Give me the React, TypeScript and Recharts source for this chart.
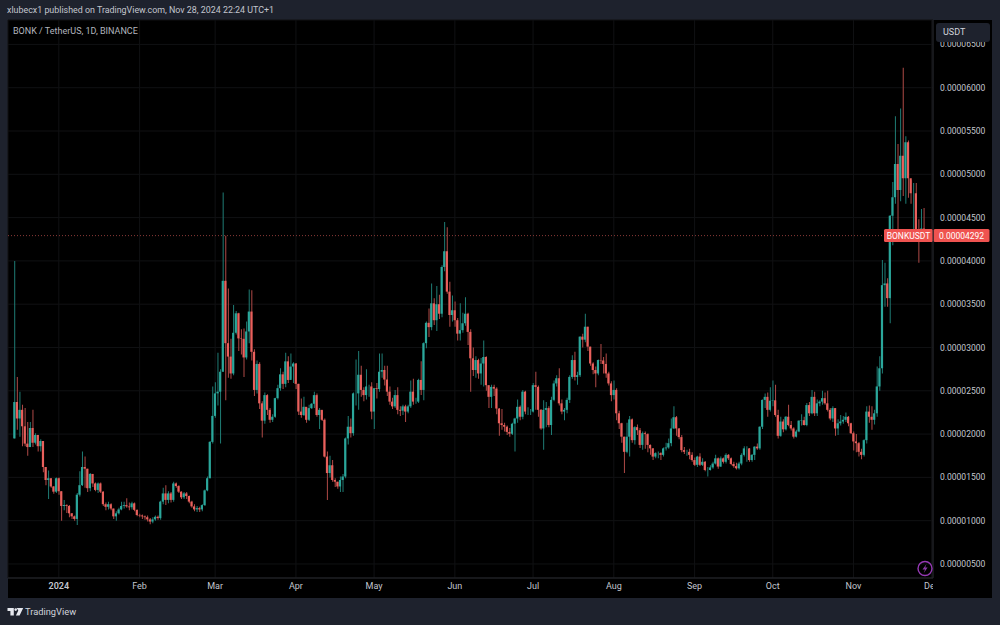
import { Bar, Cell, CartesianGrid, ComposedChart, ReferenceLine, XAxis, YAxis } from 'recharts';

// all prices are in units of 0.00000001 USDT
const firstOpen = 1950;
const lastPrice = 4292;

// one row per month, Dec 15 2023 to Nov 28 2024
const closes = [
  2370, 2180, 2280, 2090, 1890, 1850, 2070, 1900, 1990, 1860, 1920, 1620, 1470, 1490, 1395, 1335, 1490,
  1340, 1170, 1180, 1170, 1085, 1050, 1020, 1300, 1410, 1620, 1600, 1375, 1540, 1430, 1355, 1430, 1335, 1190, 1160, 1190, 1140, 1050, 1085, 1130, 1170, 1180, 1165, 1155, 1200, 1125, 1065,
  1060, 1050, 1040, 1015, 990, 1015, 1045, 1030, 1220, 1315, 1240, 1315, 1240, 1430, 1400, 1335, 1270, 1315, 1285, 1220, 1165, 1130, 1145, 1130, 1180, 1350, 1490, 1910, 2210,
  2470, 2490, 2720, 3770, 3050, 2895, 2700, 3170, 3395, 3105, 3100, 2885, 3185, 3415, 2950, 2510, 2810, 2355, 2155, 2450, 2280, 2165, 2200, 2415, 2530, 2690, 2580, 2840, 2625, 2780, 2815,
  2580, 2260, 2220, 2315, 2165, 2300, 2350, 2450, 2220, 2280, 2165, 1740, 1550, 1640, 1470, 1450, 1395, 1470, 1510, 1950, 2085, 2010, 2470, 2470, 2685, 2510, 2450, 2550, 2550, 2260,
  2530, 2520, 2720, 2740, 2630, 2490, 2375, 2320, 2450, 2280, 2270, 2320, 2260, 2320, 2490, 2375, 2375, 2625, 2510, 3050, 3285, 3235, 3510, 3315, 3500, 3390, 3930, 4110, 3645, 3375, 3430,
  3315, 3160, 3200, 3280, 3390, 3180, 2875, 2740, 2855, 2700, 2815, 2890, 2565, 2430, 2545, 2525, 2295, 2125, 2105, 2085, 2025, 2005, 2120, 2180, 2315, 2200, 2490, 2260, 2260, 2260,
  2565, 2545, 2280, 2065, 2280, 2300, 2105, 2395, 2585, 2645, 2355, 2260, 2280, 2395, 2660, 2855, 2660, 2680, 3125, 3090, 3240, 3010, 2815, 2740, 2700, 2855, 2850, 2810, 2700, 2585, 2450,
  2510, 2240, 2125, 1970, 1795, 1970, 2170, 1930, 2080, 2045, 1875, 2010, 2000, 1875, 1835, 1740, 1780, 1780, 1760, 1835, 1845, 1895, 2065, 2195, 2065, 1965, 1815, 1795, 1795, 1760, 1700,
  1645, 1740, 1645, 1680, 1585, 1585, 1615, 1660, 1720, 1625, 1720, 1680, 1760, 1720, 1655, 1630, 1605, 1660, 1760, 1835, 1835, 1700, 1760, 1855, 1835, 2085, 2395, 2430, 2280, 2385,
  2390, 2220, 1980, 2145, 2055, 2200, 2105, 2065, 1970, 2030, 2155, 2160, 2105, 2335, 2240, 2430, 2240, 2355, 2375, 2415, 2355, 2280, 2180, 2300, 2065, 2125, 2145, 2165, 2200, 2125, 2010,
  1915, 1895, 1795, 1760, 1930, 2260, 2200, 2165, 2240, 2550, 2760, 3720, 3740, 3570, 4520, 4735, 5120, 4820, 5215, 4955, 5370, 4955, 4780, 4780, 4360, 4320, 4375, 4292,
];
const highs = [
  4000, 2660, 2490, 2340, 2300, 2140, 2140, 2280, 2010, 1990, 1940, 1920, 1620, 1580, 1490, 1400, 1500,
  1500, 1340, 1240, 1190, 1180, 1090, 1060, 1320, 1570, 1800, 1740, 1600, 1550, 1540, 1440, 1440, 1440, 1340, 1210, 1220, 1200, 1140, 1110, 1150, 1220, 1220, 1260, 1210, 1220, 1210, 1130,
  1080, 1070, 1060, 1060, 1030, 1040, 1060, 1060, 1230, 1380, 1410, 1340, 1330, 1450, 1440, 1410, 1340, 1330, 1330, 1290, 1230, 1190, 1170, 1160, 1190, 1360, 1510, 1920, 2550,
  2600, 2940, 2750, 4790, 4290, 3680, 3100, 3490, 3420, 3400, 3210, 3220, 3300, 3670, 3660, 2980, 2850, 2830, 2380, 2480, 2460, 2300, 2230, 2420, 2570, 2760, 2720, 2940, 2900, 2930, 2830,
  2820, 2580, 2410, 2430, 2310, 2340, 2360, 2490, 2470, 2300, 2270, 2180, 1800, 1750, 1700, 1490, 1450, 1510, 1540, 1960, 2210, 2180, 2480, 2860, 2960, 2790, 2540, 2750, 2570, 2600,
  2530, 2590, 2930, 2930, 2790, 2790, 2550, 2420, 2510, 2540, 2320, 2340, 2340, 2340, 2620, 2640, 2420, 2640, 2840, 3060, 3300, 3450, 3740, 3570, 3710, 3610, 3950, 4450, 4390, 3760, 3600,
  3530, 3340, 3510, 3400, 3580, 3400, 3210, 3000, 2900, 2870, 2880, 3080, 2900, 2560, 2570, 2570, 2540, 2300, 2290, 2130, 2100, 2070, 2130, 2190, 2400, 2330, 2510, 2500, 2310, 2290,
  2590, 2720, 2560, 2290, 2390, 2370, 2320, 2430, 2620, 2680, 2760, 2400, 2300, 2420, 2680, 2910, 2950, 2720, 3130, 3160, 3390, 3240, 3010, 2830, 2780, 2860, 3040, 2890, 2930, 2720, 2610,
  2620, 2530, 2270, 2130, 1970, 2130, 2210, 2180, 2090, 2110, 2070, 2030, 2030, 2010, 1880, 1840, 1790, 1800, 1790, 1845, 1900, 1950, 2180, 2320, 2210, 2070, 1990, 1850, 1820, 1830, 1790,
  1730, 1750, 1780, 1720, 1690, 1620, 1640, 1680, 1760, 1730, 1740, 1730, 1780, 1770, 1730, 1680, 1670, 1680, 1780, 1860, 1860, 1840, 1770, 1860, 1890, 2090, 2400, 2470, 2480, 2540,
  2620, 2570, 2280, 2200, 2170, 2210, 2340, 2150, 2080, 2050, 2160, 2230, 2200, 2360, 2370, 2510, 2490, 2400, 2390, 2500, 2480, 2500, 2300, 2320, 2300, 2170, 2220, 2210, 2250, 2210, 2130,
  2030, 2000, 1910, 1830, 1940, 2320, 2330, 2320, 2280, 2780, 2900, 4010, 3980, 3800, 4530, 4910, 5670, 5350, 5760, 6230, 5440, 5390, 4930, 4900, 4900, 4480, 4600, 4610,
];
const lows = [
  1950, 2050, 1970, 1860, 1860, 1750, 1850, 1850, 1880, 1800, 1800, 1560, 1410, 1250, 1380, 1310, 1320,
  1300, 1000, 1120, 1090, 1040, 1020, 1000, 950, 1280, 1400, 1380, 1330, 1340, 1390, 1340, 1320, 1320, 1170, 1120, 1130, 1120, 1020, 1000, 1070, 1120, 1140, 1150, 1120, 1130, 1110, 1050,
  1040, 1020, 1010, 990, 960, 970, 1000, 1010, 1010, 1190, 1180, 1200, 1210, 1220, 1380, 1320, 1250, 1250, 1250, 1200, 1150, 1110, 1100, 1100, 1110, 1170, 1340, 1490, 1890,
  2190, 2330, 1890, 2720, 2390, 2650, 2640, 2680, 3150, 2960, 2920, 2660, 2860, 3050, 2850, 2440, 2470, 2290, 1960, 2120, 2220, 2130, 2140, 2190, 2400, 2500, 2520, 2540, 2590, 2640, 2590,
  2520, 2220, 2190, 2210, 2130, 2150, 2290, 2300, 2200, 2060, 2150, 1730, 1240, 1500, 1450, 1390, 1370, 1330, 1330, 1490, 1880, 1960, 1980, 2330, 2280, 2430, 2380, 2400, 2430, 2170,
  2060, 2410, 2490, 2650, 2560, 2440, 2340, 2290, 2300, 2230, 2210, 2220, 2140, 2240, 2300, 2340, 2350, 2360, 2450, 2390, 2990, 3120, 3200, 3260, 3190, 3330, 3350, 3880, 3620, 3240, 3300,
  3240, 3080, 3080, 3170, 3250, 3030, 2490, 2670, 2650, 2640, 2570, 2550, 2500, 2300, 2300, 2440, 2230, 1980, 2050, 2030, 1990, 1970, 1990, 1800, 2130, 2160, 2170, 2230, 2220, 2220,
  2250, 2280, 2200, 2050, 1820, 2080, 2080, 1990, 2380, 2550, 2330, 2230, 2160, 2240, 2360, 2640, 2620, 2570, 2660, 3000, 3060, 2960, 2790, 2690, 2540, 2680, 2810, 2700, 2650, 2560, 2380,
  2400, 2160, 2060, 1900, 1550, 1780, 1740, 1900, 1880, 1990, 1840, 1820, 1830, 1790, 1760, 1700, 1720, 1720, 1700, 1740, 1810, 1830, 1860, 2060, 1980, 1940, 1790, 1770, 1750, 1710, 1680,
  1630, 1620, 1630, 1630, 1570, 1510, 1580, 1600, 1650, 1600, 1620, 1660, 1660, 1700, 1640, 1610, 1590, 1590, 1640, 1740, 1680, 1680, 1680, 1700, 1820, 1820, 2060, 2300, 2200, 2260,
  2320, 2200, 1950, 1970, 2020, 2040, 2090, 2040, 1950, 1960, 2020, 2100, 2100, 2090, 2210, 2230, 2210, 2210, 2320, 2340, 2340, 2260, 2160, 2140, 1980, 1990, 2100, 2120, 2140, 2090, 2000,
  1810, 1790, 1740, 1710, 1740, 1890, 2130, 2050, 2110, 2200, 2500, 2700, 3470, 3470, 3280, 4180, 4660, 4350, 4690, 4750, 4660, 4730, 4660, 4340, 4310, 3980, 4220, 4220,
];

const priceTicks = [500, 1000, 1500, 2000, 2500, 3000, 3500, 4000, 4500, 5000, 5500, 6000, 6500];
const monthTicks = [
  '2024-01-01', '2024-02-01', '2024-03-01', '2024-04-01', '2024-05-01', '2024-06-01',
  '2024-07-01', '2024-08-01', '2024-09-01', '2024-10-01', '2024-11-01', '2024-12-01',
];
const monthLabels = ['2024', 'Feb', 'Mar', 'Apr', 'May', 'Jun', 'Jul', 'Aug', 'Sep', 'Oct', 'Nov', 'Dec'];

const UP = '#2ba79b';
const DOWN = '#e9605c';
const UP_WICK = '#1f7d75';
const DOWN_WICK = '#b04a47';
const FONT = 'Roboto, sans-serif';

// two empty days in front of the first candle, three behind the last
const leadDays = 2;
const slots = 355;
const dayMs = 86400000;
const startMs = Date.UTC(2023, 11, 13);

const rows = Array.from({ length: slots }, (_, i) => {
  const date = new Date(startMs + i * dayMs).toISOString().slice(0, 10);
  const k = i - leadDays;
  if (k < 0 || k >= closes.length) return { date };
  const open = k === 0 ? firstOpen : closes[k - 1];
  const close = closes[k];
  return {
    date,
    up: close >= open,
    wick: [lows[k], highs[k]],
    body: [Math.min(open, close), Math.max(open, close)],
  };
});

function TimeTick({ x, y, payload }: any) {
  const label = monthLabels[monthTicks.indexOf(payload.value)];
  return (
    <text
      x={x}
      y={y + 3}
      textAnchor="middle"
      fill="#c3c6ce"
      fontSize={9}
      fontFamily={FONT}
      fontWeight={label === '2024' ? 600 : 400}
      clipPath="url(#timeAxisClip)"
    >
      {label}
    </text>
  );
}

function LastPriceTag({ viewBox }: any) {
  const y = viewBox.y;
  return (
    <g fontFamily={FONT} fontSize={8.5} fill="#fff">
      <rect x={884} y={y - 6.5} width={49} height={13} rx={1.5} fill="#ef5350" />
      <rect x={933.5} y={y - 6.5} width={56} height={13} rx={1.5} fill="#ef5350" />
      <text x={908.5} y={y + 3} textAnchor="middle">BONKUSDT</text>
      <text x={961.5} y={y + 3} textAnchor="middle">{(lastPrice / 1e8).toFixed(8)}</text>
    </g>
  );
}

export default function App() {
  return (
    <div style={{ position: 'absolute', left: 0, top: 0, width: 1000, height: 625, background: '#1e222d', overflow: 'hidden', fontFamily: FONT }}>
      <div style={{ position: 'absolute', left: 8, top: 20, width: 984, height: 578, background: '#000' }} />
      <div style={{ position: 'absolute', left: 0, top: 0 }}>
        <ComposedChart width={1000} height={625} data={rows} margin={{ top: 20, right: 8, bottom: 27, left: 8 }}>
          <defs>
            <clipPath id="timeAxisClip">
              <rect x={8} y={578} width={925} height={20} />
            </clipPath>
          </defs>
          <CartesianGrid stroke="#101113" xAxisId="time" />
          <XAxis xAxisId="candle" dataKey="date" hide height={0} />
          <XAxis
            xAxisId="time"
            dataKey="date"
            ticks={monthTicks}
            interval={0}
            height={20}
            axisLine={{ stroke: '#26282e' }}
            tickLine={false}
            tick={<TimeTick />}
          />
          <YAxis
            orientation="right"
            width={59}
            domain={[338, 6782]}
            allowDataOverflow
            ticks={priceTicks}
            interval={0}
            axisLine={{ stroke: '#26282e' }}
            tickLine={false}
            tickMargin={1}
            tick={{ fill: '#c3c6ce', fontSize: 8.5, fontFamily: FONT }}
            tickFormatter={(v: number) => (v / 1e8).toFixed(8)}
          />
          <Bar xAxisId="time" dataKey="wick" barSize={1} isAnimationActive={false}>
            {rows.map((r: any) => (
              <Cell key={r.date} fill={r.up ? UP_WICK : DOWN_WICK} />
            ))}
          </Bar>
          <Bar xAxisId="candle" dataKey="body" barSize={2.2} isAnimationActive={false}>
            {rows.map((r: any) => (
              <Cell key={r.date} fill={r.up ? UP : DOWN} />
            ))}
          </Bar>
          <ReferenceLine
            xAxisId="time"
            y={lastPrice}
            stroke="#8a3a38"
            strokeDasharray="1 2"
            label={<LastPriceTag />}
          />
        </ComposedChart>
      </div>

      <div style={{ position: 'absolute', left: 7, top: 5, fontSize: 8.9, color: '#c3c6ce', whiteSpace: 'nowrap' }}>
        xlubecx1 published on TradingView.com, Nov 28, 2024 22:24 UTC+1
      </div>
      <div style={{ position: 'absolute', left: 13, top: 26, fontSize: 9, color: '#b2b5be', whiteSpace: 'nowrap' }}>
        BONK / TetherUS, 1D, BINANCE
      </div>
      <div style={{ position: 'absolute', left: 936, top: 23, width: 54, height: 19, boxSizing: 'border-box', paddingLeft: 7, lineHeight: '18px', background: '#1e222d', borderRadius: 3, fontSize: 9, color: '#d1d4dc' }}>
        USDT
      </div>

      <svg style={{ position: 'absolute', left: 916, top: 560 }} width={18} height={18}>
        <circle cx={9} cy={8.5} r={7} fill="none" stroke="#9639b5" strokeWidth={1.4} />
        <path d="M10.5 4 L6.5 9.5 L9 9.5 L7.8 13 L11.6 7.6 L9.2 7.6 Z" fill="#8a3aa6" />
      </svg>

      <svg style={{ position: 'absolute', left: 7, top: 607 }} width={17} height={10}>
        <path d="M0.5 1 H6.8 V8.5 H3.4 V4 H0.5 Z M9.6 1 H16.2 L12.6 8.5 H8.9 L11.3 3.6 Z" fill="#e6e8ee" />
        <circle cx={8.7} cy={2.6} r={1.3} fill="#e6e8ee" />
      </svg>
      <div style={{ position: 'absolute', left: 25, top: 606, fontSize: 9.3, fontWeight: 400, color: '#d1d4dc', whiteSpace: 'nowrap' }}>
        TradingView
      </div>
    </div>
  );
}
